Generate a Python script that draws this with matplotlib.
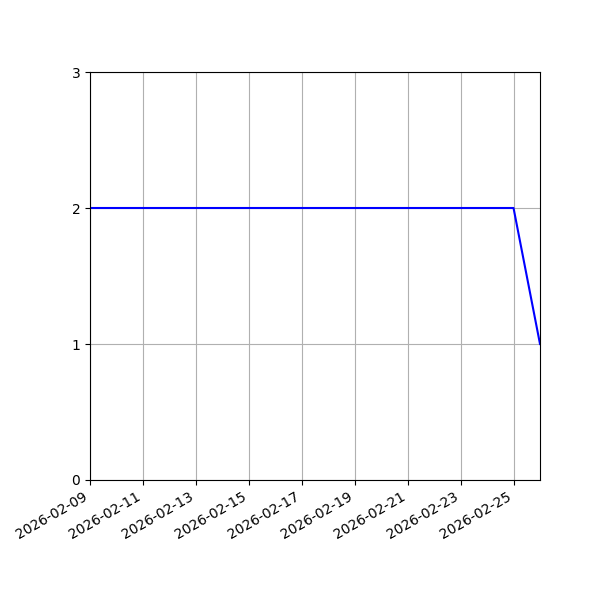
import matplotlib
matplotlib.use("Agg")
from matplotlib import pyplot as plt
import matplotlib.dates as mdates
import pandas as pd

# daily counts, 2026-02-09 .. 2026-02-26
dates = pd.date_range("2026-02-09", "2026-02-26", freq="D")
counts = [2, 2, 2, 2, 2, 2, 2, 2, 2, 2, 2, 2, 2, 2, 2, 2, 2, 1]
y_ticks = [0, 1, 2, 3]

fig, ax = plt.subplots(figsize=(6, 6), dpi=100)
ax.plot(dates, counts, color="blue")
ax.set_xlim(dates[0], dates[-1])
ax.set_ylim(0, 3)
ax.set_yticks(y_ticks)
ax.set_xticks(dates[::2])
ax.xaxis.set_major_formatter(mdates.DateFormatter("%Y-%m-%d"))
ax.grid(True)
fig.autofmt_xdate()
fig.subplots_adjust(left=0.15)

fig.savefig("out.png")
